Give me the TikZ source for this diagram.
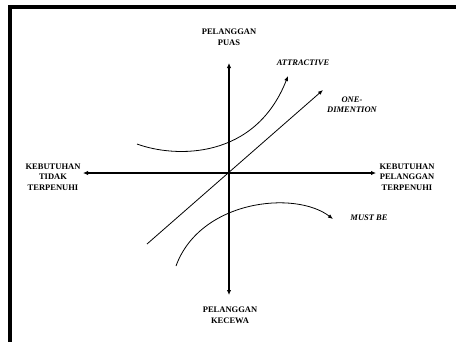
\documentclass[tikz,border=0pt]{standalone}
\usepackage{fontspec}
\setmainfont{Liberation Serif}
\usetikzlibrary{arrows.meta}
\begin{document}
\begin{tikzpicture}[x=1pt,y=-1pt,
  axis/.style={line width=1.6pt,-{Latex[length=5pt,width=4.5pt]}},
  curve/.style={line width=0.8pt,-{Latex[length=5pt,width=4pt]}},
  lbl/.style={font=\fontsize{8.5}{10.5}\selectfont\bfseries,align=center,inner sep=0pt},
  ilbl/.style={font=\fontsize{8.5}{10.5}\selectfont\bfseries\itshape,align=center,inner sep=0pt}]
\useasboundingbox (0,0) rectangle (456,341);
\begin{scope}
\clip (0,0) rectangle (456,341);
\draw[line width=4pt] (10,7) rectangle (470,360);
\end{scope}
\coordinate (O) at (229,173);
\coordinate (top) at (229,63);
\coordinate (bot) at (229,295);
\coordinate (lft) at (83,173);
\coordinate (rgt) at (376,173);
\draw[axis] (O) -- (top);
\draw[axis] (O) -- (bot);
\draw[axis] (O) -- (lft);
\draw[axis] (O) -- (rgt);
\node[lbl] (puas) at (229,37) {PELANGGAN\\PUAS};
\node[lbl] (kecewa) at (230,315) {PELANGGAN\\KECEWA};
\node[lbl] (tidak) at (53,177) {KEBUTUHAN\\TIDAK\\TERPENUHI};
\node[lbl] (penuh) at (407,177) {KEBUTUHAN\\PELANGGAN\\TERPENUHI};
\node[ilbl] (attr) at (303,63) {ATTRACTIVE};
\node[ilbl] (one) at (352,104.5) {ONE-\\DIMENTION};
\node[ilbl] (must) at (369,218) {MUST BE};
\coordinate (a0) at (137,144);
\coordinate (a1) at (288,76);
\draw[curve] (a0) .. controls (175,158) and (255,160) .. (a1);
\coordinate (d0) at (147,244);
\coordinate (d1) at (323,90);
\draw[curve] (d0) -- (d1);
\coordinate (m0) at (176,266);
\coordinate (m1) at (333,219);
\draw[curve] (m0) .. controls (200,200) and (295,190) .. (m1);
\end{tikzpicture}
\end{document}
